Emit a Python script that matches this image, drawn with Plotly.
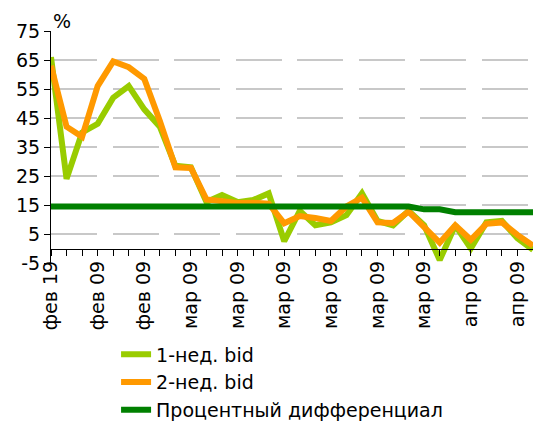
import plotly.graph_objects as go

# ---- data ----
x_idx = list(range(32))
tick_pos = [0, 3, 6, 9, 12, 15, 18, 21, 24, 27, 30]
tick_labels = ["фев 19", "фев 09", "фев 09", "мар 09", "мар 09", "мар 09",
               "мар 09", "мар 09", "мар 09", "апр 09", "апр 09"]
y_ticks = [-5, 5, 15, 25, 35, 45, 55, 65, 75]
y_tick_labels = ["-5", "5", "15", "25", "35", "45", "55", "65", "75"]

bid1 = [66, 24, 40, 43, 52, 56, 48, 42, 28.5, 28, 16, 18.4, 16, 16.7, 19, 2.5,
        13, 8, 9, 11.5, 19, 9.5, 8, 13, 8, -4, 8, 0, 9, 9.5, 3.5, -0.5]
bid2 = [63, 42, 38.5, 56, 64.5, 62.5, 58.5, 44, 28, 27.8, 16.9, 16.3, 15.7, 15.8,
        15.5, 8.7, 11.2, 10.5, 9.5, 14.5, 17.5, 9, 8.8, 12.7, 7, 2, 8, 3, 8.5,
        9, 4.7, 1]
diff = [14.5] * 24 + [13.5, 13.5] + [12.5] * 6

names = ["1-нед. bid", "2-нед. bid", "Процентный дифференциал"]
colors = ["#99CC00", "#FF9900", "#008000"]

FONT = "DejaVu Sans"

fig = go.Figure()
fig.add_trace(go.Scatter(x=x_idx, y=bid1, mode="lines", name=names[0],
                         line=dict(color=colors[0], width=6), legendgroup="a"))
fig.add_trace(go.Scatter(x=x_idx, y=bid2, mode="lines", name=names[1],
                         line=dict(color=colors[1], width=6), legendgroup="b"))
fig.add_trace(go.Scatter(x=x_idx, y=diff, mode="lines", name=names[2],
                         line=dict(color=colors[2], width=6), legendgroup="c",
                         xaxis="x2"))

fig.update_layout(
    width=533, height=421,
    margin=dict(l=51, r=0, t=31, b=158, autoexpand=False),
    paper_bgcolor="white", plot_bgcolor="white",
    font=dict(family=FONT, size=19, color="black"),
    showlegend=True,
    legend=dict(x=0.135, xanchor="left", y=-0.312, yanchor="top",
                font=dict(family=FONT, size=19), tracegroupgap=0,
                bgcolor="rgba(0,0,0,0)"),
    xaxis=dict(range=[0, 31], tickmode="array", tickvals=tick_pos,
               ticktext=tick_labels, tickangle=-90, ticks="", showgrid=False,
               showline=False, zeroline=False, automargin=False,
               ticklabelstandoff=-7,
               tickfont=dict(family=FONT, size=19)),
    xaxis2=dict(range=[0, 31], overlaying="x", anchor="free", position=0.0625,
                tickmode="array", tickvals=x_idx, showticklabels=False,
                ticks="outside", ticklen=6, tickcolor="black", tickwidth=1,
                showline=True, linecolor="black", linewidth=1,
                showgrid=False, zeroline=False, automargin=False),
    yaxis=dict(range=[-5, 75], tickmode="array", tickvals=y_ticks,
               ticktext=y_tick_labels, showline=True,
               linecolor="black", linewidth=1, ticks="outside", ticklen=6,
               tickcolor="black", showgrid=True, gridcolor="#c8c8c8",
               gridwidth=1.5, griddash="46px,15.5px", zeroline=False,
               automargin=False, tickfont=dict(family=FONT, size=19)),
    annotations=[dict(text="%", x=0, y=1, xref="paper", yref="paper",
                      xanchor="left", yanchor="bottom", showarrow=False,
                      xshift=0, yshift=-3, font=dict(family=FONT, size=19))],
)

fig.write_html("out.html",
               config={"displayModeBar": False},
               post_script="document.body.style.margin='0';"
                           "document.body.style.overflow='hidden';")
